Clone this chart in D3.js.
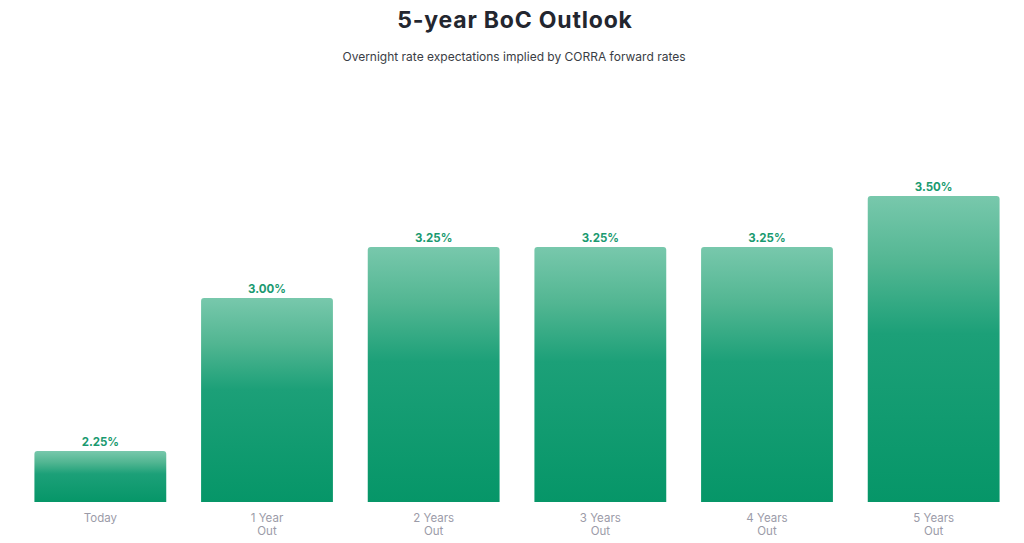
<!DOCTYPE html>
<html><head><meta charset="utf-8">
<script src="https://cdn.jsdelivr.net/npm/d3@7/dist/d3.min.js"></script>
<style>
html,body{margin:0;padding:0;background:#fff;}
svg{display:block;font-family:"Inter","Open Sans",sans-serif;}
</style></head>
<body><svg id="chart" width="1024" height="543"></svg>
<script>
const categories = [["Today"],["1 Year","Out"],["2 Years","Out"],["3 Years","Out"],["4 Years","Out"],["5 Years","Out"]];
const rates = [2.25, 3.00, 3.25, 3.25, 3.25, 3.50];
const valueLabels = ["2.25%","3.00%","3.25%","3.25%","3.25%","3.50%"];
const title = "5-year BoC Outlook";
const subtitle = "Overnight rate expectations implied by CORRA forward rates";

const svg = d3.select("#chart");
const defs = svg.append("defs");
const grad = defs.append("linearGradient").attr("id","barGrad")
  .attr("x1",0).attr("y1",0).attr("x2",0).attr("y2",1);
[[0,"#78c8ac"],[0.22,"#52b692"],[0.45,"#1ca078"],[1,"#069668"]].forEach(([o,c])=>
  grad.append("stop").attr("offset",o).attr("stop-color",c));

const x = d3.scaleBand().domain(d3.range(rates.length)).range([17, 1017]).paddingInner(0.209).paddingOuter(0.1045);
const y = d3.scaleLinear().domain([2.0, 3.5]).range([502, 196]);

svg.append("text").attr("x",515).attr("y",28).attr("text-anchor","middle")
  .attr("font-size",23).attr("font-weight",700).attr("letter-spacing",0.8).attr("fill","#23262f").text(title);
svg.append("text").attr("x",514).attr("y",61).attr("text-anchor","middle")
  .attr("font-size",12).attr("fill","#3a3d45").text(subtitle);

const r = 3;
const g = svg.append("g");
g.selectAll("path.bar").data(rates).join("path").attr("class","bar")
  .attr("fill","url(#barGrad)")
  .attr("d",(d,i)=>{
    const x0 = x(i), w = x.bandwidth(), y0 = y(d), y1 = y.range()[0];
    return `M${x0},${y1}V${y0+r}Q${x0},${y0} ${x0+r},${y0}H${x0+w-r}Q${x0+w},${y0} ${x0+w},${y0+r}V${y1}Z`;
  });

g.selectAll("text.val").data(rates).join("text").attr("class","val")
  .attr("x",(d,i)=>x(i)+x.bandwidth()/2).attr("y",d=>y(d)-5)
  .attr("text-anchor","middle").attr("font-size",11.5).attr("font-weight",700)
  .attr("fill","#1a9a70").text((d,i)=>valueLabels[i]);

const xl = g.selectAll("text.cat").data(categories).join("text").attr("class","cat")
  .attr("x",(d,i)=>x(i)+x.bandwidth()/2).attr("y",521.5)
  .attr("text-anchor","middle").attr("font-size",11.5).attr("fill","#9b9ba8");
xl.each(function(d){
  const t = d3.select(this);
  d.forEach((line,k)=>t.append("tspan").attr("x",t.attr("x")).attr("dy",k===0?0:13).text(line));
});
</script></body></html>
